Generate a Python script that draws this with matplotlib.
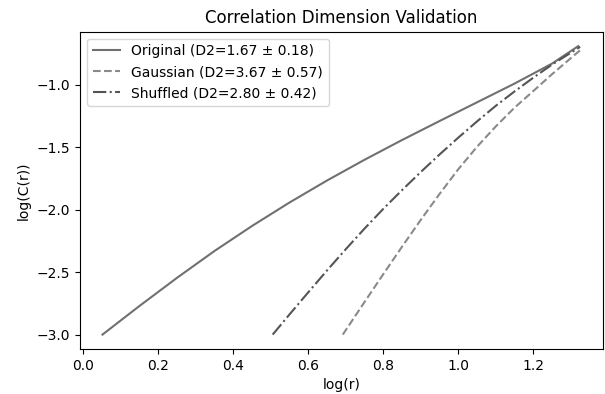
import matplotlib
matplotlib.use("Agg")
import matplotlib.pyplot as plt

# log(r) / log(C(r)) curves for each series
orig_log_r = [0.051, 0.15, 0.25, 0.35, 0.45, 0.55, 0.65, 0.75, 0.85, 0.95, 1.05, 1.15, 1.25, 1.32]
orig_log_c = [-3.00, -2.77, -2.545, -2.33, -2.13, -1.942, -1.766, -1.60, -1.442, -1.29, -1.14, -0.99, -0.83, -0.69]

gauss_log_r = [0.692, 0.75, 0.80, 0.85, 0.90, 0.95, 1.00, 1.05, 1.10, 1.15, 1.20, 1.25, 1.33]
gauss_log_c = [-3.00, -2.739, -2.516, -2.296, -2.081, -1.874, -1.676, -1.496, -1.333, -1.183, -1.05, -0.915, -0.71]

shuf_log_r = [0.505, 0.55, 0.60, 0.65, 0.70, 0.75, 0.80, 0.85, 0.90, 0.95, 1.00, 1.05, 1.10, 1.15, 1.20, 1.25, 1.325]
shuf_log_c = [-3.00, -2.838, -2.661, -2.486, -2.316, -2.151, -1.993, -1.843, -1.698, -1.558, -1.423, -1.293, -1.168, -1.053, -0.943, -0.838, -0.696]

labels = [
    "Original (D2=1.67 \u00b1 0.18)",
    "Gaussian (D2=3.67 \u00b1 0.57)",
    "Shuffled (D2=2.80 \u00b1 0.42)",
]

fig = plt.figure(figsize=(6.05, 3.94), dpi=100)
ax = fig.add_axes([80 / 605, 1 - 349 / 394, 523 / 605, (349 - 31.7) / 394])

ax.plot(orig_log_r, orig_log_c, color="#707070", linestyle="-", linewidth=1.5, label=labels[0])
ax.plot(gauss_log_r, gauss_log_c, color="#8a8a8a", linestyle="--", linewidth=1.5, label=labels[1])
ax.plot(shuf_log_r, shuf_log_c, color="#555555", linestyle="-.", linewidth=1.5, label=labels[2])

ax.set_xlim(-0.009, 1.386)
ax.set_ylim(-3.1155, -0.5745)
ax.set_xticks([0.0, 0.2, 0.4, 0.6, 0.8, 1.0, 1.2])
ax.set_yticks([-3.0, -2.5, -2.0, -1.5, -1.0])

ax.set_xlabel("log(r)")
ax.set_ylabel("log(C(r))")
ax.set_title("Correlation Dimension Validation")
ax.legend(loc="upper left")

fig.savefig("out.png", dpi=100)
